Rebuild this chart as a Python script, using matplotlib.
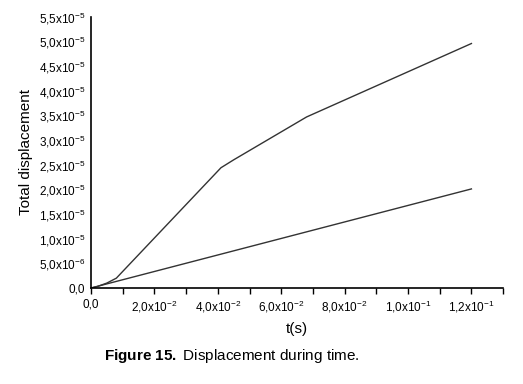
import matplotlib.pyplot as plt
from matplotlib.ticker import FixedLocator, MultipleLocator

plt.rcParams['font.family'] = ['Liberation Sans', 'DejaVu Sans']
plt.rcParams['mathtext.fontset'] = 'custom'
plt.rcParams['mathtext.rm'] = 'Liberation Sans'
plt.rcParams['mathtext.it'] = 'Liberation Sans:italic'
plt.rcParams['mathtext.bf'] = 'Liberation Sans:bold'

# upper curve
t_upper = [0.0, 0.002, 0.005, 0.008, 0.041, 0.045, 0.068, 0.12]
d_upper = [0.0, 0.03e-5, 0.1e-5, 0.2e-5, 2.44e-5, 2.6e-5, 3.47e-5, 4.96e-5]
# lower line
t_lower = [0.0, 0.12]
d_lower = [0.0, 2.01e-5]

x_ticks = [0.0, 0.02, 0.04, 0.06, 0.08, 0.10, 0.12]
x_labels = ['0,0', r'2,0x10$^{-2}$', r'4,0x10$^{-2}$', r'6,0x10$^{-2}$',
            r'8,0x10$^{-2}$', r'1,0x10$^{-1}$', r'1,2x10$^{-1}$']
y_ticks = [0.0, 0.5e-5, 1.0e-5, 1.5e-5, 2.0e-5, 2.5e-5, 3.0e-5, 3.5e-5,
           4.0e-5, 4.5e-5, 5.0e-5, 5.5e-5]
y_labels = ['0,0', r'5,0x10$^{-6}$'] + [r'%s,%sx10$^{-5}$' % (s[0], s[1]) for s in
            ['10', '15', '20', '25', '30', '35', '40', '45', '50', '55']]

fig = plt.figure(figsize=(5.23, 3.84), dpi=100)
ax = fig.add_axes([0.174, 0.25, 0.788, 0.706])

ax.plot(t_upper, d_upper, color='#333333', lw=1.0)
ax.plot(t_lower, d_lower, color='#333333', lw=1.0)

ax.set_xlim(0, 0.13)
ax.set_ylim(0, 5.5e-5)
ax.xaxis.set_major_locator(FixedLocator(x_ticks))
ax.xaxis.set_minor_locator(MultipleLocator(0.01))
ax.set_xticklabels(x_labels, fontsize=8.5)
ax.set_yticks(y_ticks)
ax.set_yticklabels(y_labels, fontsize=8.5)
ax.tick_params(axis='x', which='both', direction='out', length=4, width=1)
ax.tick_params(axis='y', length=0, pad=4)

for s in ['top', 'right']:
    ax.spines[s].set_visible(False)
for s in ['left', 'bottom']:
    ax.spines[s].set_linewidth(1.2)

ax.set_xlabel('t(s)', fontsize=11, labelpad=5)
ax.set_ylabel('Total displacement', fontsize=11, labelpad=4)

fig.text(0.444, 0.073, r'$\mathbf{Figure\ 15.}$ Displacement during time.',
         ha='center', va='center', fontsize=11)

plt.savefig('out.png', dpi=100)
